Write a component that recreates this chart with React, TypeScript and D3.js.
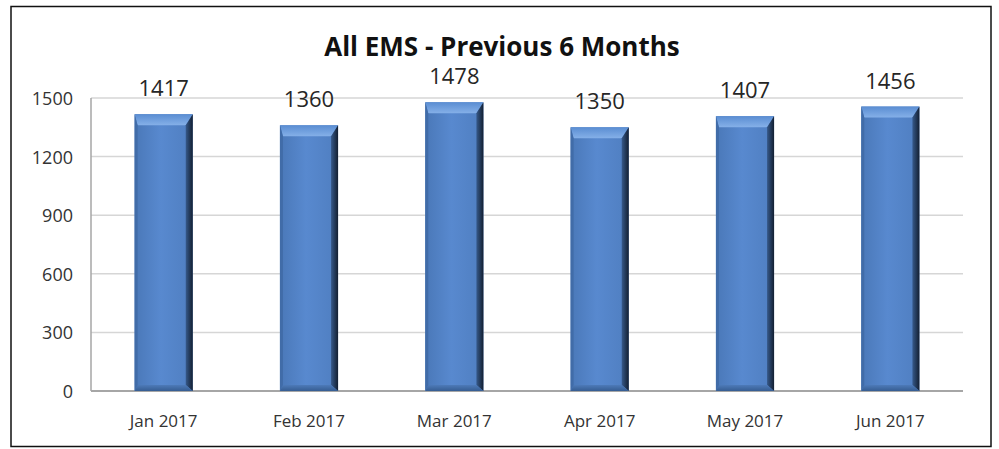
import React, { useRef, useEffect } from "react";
import * as d3 from "d3";

const months = ["Jan 2017", "Feb 2017", "Mar 2017", "Apr 2017", "May 2017", "Jun 2017"];
const calls = [1417, 1360, 1478, 1350, 1407, 1456];
const yTicks = [0, 300, 600, 900, 1200, 1500];
const title = "All EMS - Previous 6 Months";

const W = 999;
const H = 449;

const App = () => {
  const svgRef = useRef<SVGSVGElement>(null);

  useEffect(() => {
    if (!svgRef.current) return;
    const svg = d3.select(svgRef.current);
    svg.selectAll("*").remove();

    const margin = { top: 98, right: 36, bottom: 58, left: 91 };
    const font = "'Open Sans', sans-serif";

    const x = d3
      .scaleBand<string>()
      .domain(months)
      .range([margin.left, W - margin.right])
      .paddingInner(0.6)
      .paddingOuter(0.3);

    const y = d3
      .scaleLinear()
      .domain([0, 1500])
      .range([H - margin.bottom, margin.top]);

    // gradients for the bevelled bars
    const defs = svg.append("defs");
    const face = defs.append("linearGradient").attr("id", "face").attr("x1", 0).attr("x2", 1);
    face.append("stop").attr("offset", "0%").attr("stop-color", "#4a78b8");
    face.append("stop").attr("offset", "45%").attr("stop-color", "#5889cf");
    face.append("stop").attr("offset", "100%").attr("stop-color", "#4f7ec0");
    const topG = defs.append("linearGradient").attr("id", "topbev").attr("x1", 0).attr("x2", 0).attr("y1", 0).attr("y2", 1);
    topG.append("stop").attr("offset", "0%").attr("stop-color", "#5a8dd2");
    topG.append("stop").attr("offset", "100%").attr("stop-color", "#85b0e8");
    const rightG = defs.append("linearGradient").attr("id", "rightbev").attr("x1", 0).attr("x2", 1);
    rightG.append("stop").attr("offset", "0%").attr("stop-color", "#36598a");
    rightG.append("stop").attr("offset", "100%").attr("stop-color", "#131f31");
    const botG = defs.append("linearGradient").attr("id", "botbev").attr("x1", 0).attr("x2", 0).attr("y1", 0).attr("y2", 1);
    botG.append("stop").attr("offset", "0%").attr("stop-color", "#4d7ab8");
    botG.append("stop").attr("offset", "100%").attr("stop-color", "#365d92");

    svg.append("rect").attr("width", W).attr("height", H).attr("fill", "#fff");

    // gridlines
    svg
      .append("g")
      .selectAll("line")
      .data(yTicks.filter((t) => t > 0))
      .join("line")
      .attr("x1", margin.left)
      .attr("x2", W - margin.right)
      .attr("y1", (d) => y(d))
      .attr("y2", (d) => y(d))
      .attr("stroke", "#d6d6d6")
      .attr("stroke-width", 1.5);

    // axis lines
    svg
      .append("line")
      .attr("x1", margin.left)
      .attr("x2", margin.left)
      .attr("y1", y(1500))
      .attr("y2", y(0))
      .attr("stroke", "#a6a6a6")
      .attr("stroke-width", 1.5);
    svg
      .append("line")
      .attr("x1", margin.left)
      .attr("x2", W - margin.right)
      .attr("y1", y(0))
      .attr("y2", y(0))
      .attr("stroke", "#a6a6a6")
      .attr("stroke-width", 2);

    // bars with bevel
    const bw = x.bandwidth();
    const bev = 11;
    const side = 7;
    const bot = 6;
    const bars = svg
      .append("g")
      .selectAll("g")
      .data(months.map((m, i) => ({ m, v: calls[i] })))
      .join("g");

    bars
      .append("rect")
      .attr("x", (d) => x(d.m)!)
      .attr("y", (d) => y(d.v))
      .attr("width", bw)
      .attr("height", (d) => y(0) - y(d.v))
      .attr("fill", "url(#face)");

    bars
      .append("polygon")
      .attr("points", (d) => {
        const x0 = x(d.m)!;
        const x1 = x0 + bw;
        const t = y(d.v);
        return `${x0},${t} ${x1},${t} ${x1 - side},${t + bev} ${x0 + 3},${t + bev}`;
      })
      .attr("fill", "url(#topbev)");

    bars
      .append("polygon")
      .attr("points", (d) => {
        const x0 = x(d.m)!;
        const x1 = x0 + bw;
        const t = y(d.v);
        const b = y(0);
        return `${x1},${t} ${x1},${b} ${x1 - side},${b - bot} ${x1 - side},${t + bev}`;
      })
      .attr("fill", "url(#rightbev)");

    bars
      .append("polygon")
      .attr("points", (d) => {
        const x0 = x(d.m)!;
        const x1 = x0 + bw;
        const b = y(0);
        return `${x0},${b} ${x1},${b} ${x1 - side},${b - bot} ${x0 + 3},${b - bot}`;
      })
      .attr("fill", "url(#botbev)");

    bars
      .append("polygon")
      .attr("points", (d) => {
        const x0 = x(d.m)!;
        const t = y(d.v);
        const b = y(0);
        return `${x0},${t} ${x0 + 3},${t + bev} ${x0 + 3},${b - bot} ${x0},${b}`;
      })
      .attr("fill", "#416ca8");

    // value labels
    bars
      .append("text")
      .attr("x", (d) => x(d.m)! + bw / 2)
      .attr("y", (d) => y(d.v) - 18)
      .attr("text-anchor", "middle")
      .attr("font-family", font)
      .attr("font-size", 22)
      .attr("fill", "#262626")
      .text((d) => d.v);

    // y tick labels
    svg
      .append("g")
      .selectAll("text")
      .data(yTicks)
      .join("text")
      .attr("x", 73)
      .attr("y", (d) => y(d) + 7)
      .attr("text-anchor", "end")
      .attr("font-family", font)
      .attr("font-size", 18)
      .attr("fill", "#333")
      .text((d) => d);

    // category labels
    svg
      .append("g")
      .selectAll("text")
      .data(months)
      .join("text")
      .attr("x", (d) => x(d)! + bw / 2)
      .attr("y", 427)
      .attr("text-anchor", "middle")
      .attr("font-family", font)
      .attr("font-size", 17)
      .attr("fill", "#333")
      .text((d) => d);

    // title
    svg
      .append("text")
      .attr("x", 502)
      .attr("y", 56)
      .attr("text-anchor", "middle")
      .attr("font-family", font)
      .attr("font-weight", "bold")
      .attr("font-size", 26)
      .attr("fill", "#111")
      .text(title);

    // frame
    svg
      .append("rect")
      .attr("x", 11)
      .attr("y", 6.5)
      .attr("width", 980)
      .attr("height", 440)
      .attr("fill", "none")
      .attr("stroke", "#111")
      .attr("stroke-width", 1.5);
  }, []);

  return (
    <svg
      ref={svgRef}
      width={W}
      height={H}
      style={{ position: "absolute", left: 0, top: 0, display: "block" }}
    ></svg>
  );
};

export default App;
